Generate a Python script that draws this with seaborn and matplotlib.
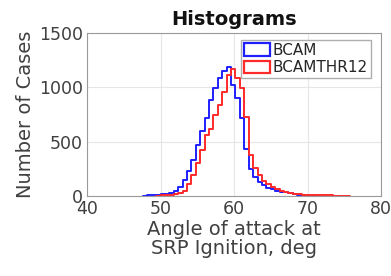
import pandas as pd
import matplotlib
matplotlib.use("Agg")
import matplotlib.pyplot as plt
from matplotlib.patches import Patch
import seaborn as sns

# bin edges (deg) and counts
bin_start = 47.6
bin_width = 0.6
n_bins = 47

bcam_counts = [3, 5, 8, 10, 15, 20, 30, 45, 80, 150, 230, 330, 470, 600, 720, 880,
               990, 1085, 1150, 1185, 1020, 900, 720, 430, 250, 170, 130, 100, 75, 60,
               45, 40, 35, 25, 15, 10, 6, 3, 2, 0, 0, 0, 0, 0, 0, 0, 0]
thr12_counts = [0, 0, 0, 3, 5, 8, 12, 20, 30, 50, 110, 190, 300, 420, 560, 620,
                740, 840, 960, 1110, 1165, 1085, 990, 730, 380, 260, 190, 140, 110, 85,
                65, 50, 40, 30, 22, 16, 12, 10, 8, 7, 6, 5, 5, 4, 3, 3, 2]
labels = ["BCAM", "BCAMTHR12"]
colors = ["#1f1fff", "#ff2a2a"]

edges = [round(bin_start + bin_width * k, 2) for k in range(n_bins + 1)]
centers = [e + bin_width / 2 for e in edges[:-1]]

sns.set_style("whitegrid")
plt.rcParams["font.family"] = ["DejaVu Sans"]

fig = plt.figure(figsize=(3.91, 2.76), dpi=100)
ax = fig.add_axes([0.2225, 0.29, 0.752, 0.591])

for counts, label, color in zip([bcam_counts, thr12_counts], labels, colors):
    nz = [i for i, c in enumerate(counts) if c > 0]
    lo, hi = nz[0], nz[-1] + 1
    df = pd.DataFrame({"angle": centers[lo:hi], "count": counts[lo:hi]})
    sns.histplot(data=df, x="angle", weights="count", bins=edges[lo:hi + 1],
                 element="step", fill=False, color=color, linewidth=1.4, ax=ax)

ax.set_xlim(40, 80)
ax.set_ylim(0, 1500)
ax.set_xticks([40, 50, 60, 70, 80])
ax.set_yticks([0, 500, 1000, 1500])
ax.grid(True, color="#e6e6e6", linewidth=0.8)
for s in ax.spines.values():
    s.set_color("#9a9a9a")
    s.set_linewidth(0.8)
ax.tick_params(axis="both", labelsize=12.5, colors="#404040", length=2, pad=1)
ax.set_xlabel("Angle of attack at\nSRP Ignition, deg", fontsize=14, color="#404040",
              labelpad=1, linespacing=1.0)
ax.set_ylabel("Number of Cases", fontsize=14, color="#404040", labelpad=3)
ax.set_title("Histograms", fontsize=14, fontweight="bold", color="#111111", pad=6)

handles = [Patch(facecolor="none", edgecolor=c, linewidth=1.6) for c in colors]
ax.legend(handles, labels, loc="upper right", bbox_to_anchor=(0.975, 0.975),
          fontsize=11, frameon=True, fancybox=False, edgecolor="#9a9a9a",
          handlelength=1.7, handleheight=0.9, handletextpad=0.15,
          borderpad=0.2, labelspacing=0.15, borderaxespad=0.2)

fig.savefig("out.png", dpi=100)
